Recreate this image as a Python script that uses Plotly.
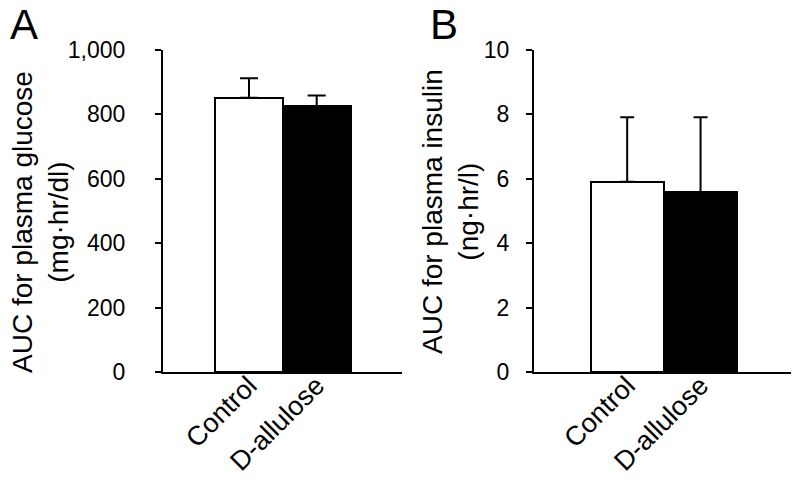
import plotly.graph_objects as go

# data
groups = ["Control", "D-allulose"]
glucose_auc = [852, 826]
glucose_sem = [60, 33]
insulin_auc = [5.91, 5.58]
insulin_sem = [2.0, 2.33]

W, H = 799, 481
OFF = 8  # page body margin shifts the figure by 8px
FONT = "Liberation Sans, Arial, sans-serif"
bar_colors = ["white", "black"]


def px_x(v):
    return (v - OFF) / W


def px_y(v):
    return 1 - (v - OFF) / H


fig = go.Figure()
fig.add_trace(go.Bar(
    x=groups, y=glucose_auc, xaxis="x", yaxis="y",
    marker=dict(color=bar_colors, line=dict(color="black", width=2)),
    error_y=dict(type="data", array=glucose_sem, arrayminus=[0, 0], symmetric=False,
                 color="black", thickness=2, width=9),
    width=1.0, showlegend=False,
))
fig.add_trace(go.Bar(
    x=groups, y=insulin_auc, xaxis="x2", yaxis="y2",
    marker=dict(color=bar_colors, line=dict(color="black", width=2)),
    error_y=dict(type="data", array=insulin_sem, arrayminus=[0, 0], symmetric=False,
                 color="black", thickness=2, width=7),
    width=1.0, showlegend=False,
))

ydom = [px_y(372), px_y(50)]
xcommon = dict(showline=True, linecolor="black", linewidth=2, ticks="", automargin=False,
               tickangle=-45, tickfont=dict(size=27, color="black", family=FONT),
               ticklabelstandoff=-15,
               range=[-1.27, 2.26], showgrid=False, zeroline=False, fixedrange=True)
ycommon = dict(showline=True, linecolor="black", linewidth=2, ticks="outside", automargin=False,
               ticklen=6, tickwidth=2, tickcolor="black", showgrid=False, zeroline=False,
               tickfont=dict(size=23, color="black", family=FONT))

fig.update_layout(
    width=W, height=H,
    margin=dict(l=0, r=0, t=0, b=0, autoexpand=False),
    paper_bgcolor="white", plot_bgcolor="white",
    font=dict(family=FONT, color="black"),
    bargap=0,
    xaxis=dict(domain=[px_x(163), px_x(402)], anchor="y", **xcommon),
    yaxis=dict(domain=ydom, anchor="x", range=[0, 1000], tickvals=[0, 200, 400, 600, 800, 1000],
               tickformat=",", ticklabelstandoff=25, **ycommon),
    xaxis2=dict(domain=[px_x(534), px_x(793)], anchor="y2", **xcommon),
    yaxis2=dict(domain=ydom, anchor="x2", range=[0, 10], tickvals=[0, 2, 4, 6, 8, 10],
                ticklabelstandoff=12, **ycommon),
    annotations=[
        dict(text="AUC for plasma glucose<br>(mg·hr/dl)", textangle=-90, showarrow=False,
             xref="paper", yref="paper", x=px_x(40), y=px_y(222),
             xanchor="center", yanchor="middle", font=dict(size=28, color="black", family=FONT)),
        dict(text="AUC for plasma insulin<br>(ng·hr/l)", textangle=-90, showarrow=False,
             xref="paper", yref="paper", x=px_x(450), y=px_y(212),
             xanchor="center", yanchor="middle", font=dict(size=28, color="black", family=FONT)),
        dict(text="A", showarrow=False, xref="paper", yref="paper", x=px_x(8), y=px_y(24),
             xanchor="left", yanchor="middle", font=dict(size=42, color="black", family=FONT)),
        dict(text="B", showarrow=False, xref="paper", yref="paper", x=px_x(428), y=px_y(25),
             xanchor="left", yanchor="middle", font=dict(size=42, color="black", family=FONT)),
    ],
)

fig.write_html("out.html")
